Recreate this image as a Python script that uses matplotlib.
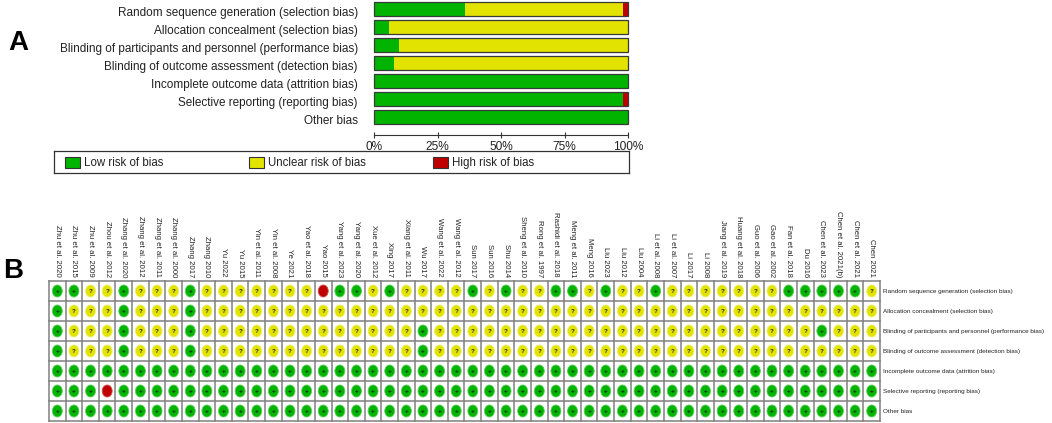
import numpy as np
import matplotlib
matplotlib.use("Agg")
import matplotlib.pyplot as plt
from matplotlib.patches import Rectangle, Ellipse

plt.rcParams['font.family'] = ['Liberation Sans', 'DejaVu Sans']

# risk of bias domains
domains = ["Random sequence generation (selection bias)",
           "Allocation concealment (selection bias)",
           "Blinding of participants and personnel (performance bias)",
           "Blinding of outcome assessment (detection bias)",
           "Incomplete outcome data (attrition bias)",
           "Selective reporting (reporting bias)",
           "Other bias"]

studies = ["Zhu et al. 2020", "Zhu et al. 2015", "Zhu et al. 2009", "Zhou et al. 2012",
           "Zhang et al. 2020", "Zhang et al. 2012", "Zhang et al. 2011", "Zhang et al. 2000",
           "Zhang 2017", "Zhang 2010", "Yu 2022", "Yu 2015", "Yin et al. 2011",
           "Yin et al. 2008", "Ye 2021", "Yao et al. 2018", "Yao 2015", "Yang et al. 2023",
           "Yang et al. 2020", "Xue et al. 2012", "Xing 2017", "Xiang et al. 2011", "Wu 2017",
           "Wang et al. 2022", "Wang et al. 2012", "Sun 2017", "Sun 2016", "Shu 2014",
           "Sheng et al. 2010", "Rong et al. 1997", "Rashidi et al. 2018", "Meng et al. 2011",
           "Meng 2016", "Liu 2023", "Liu 2012", "Liu 2004", "Li et al. 2008", "Li et al. 2007",
           "Li 2017", "Li 2008", "Jiang et al. 2019", "Huang et al. 2018", "Guo et al. 2006",
           "Gao et al. 2002", "Fan et al. 2018", "Du 2016", "Chen et al. 2023",
           "Chen et al. 2021(b)", "Chen et al. 2021", "Chen 2021"]

# judgements per study: L = low, U = unclear, H = high
random_seq   = "LLUULUUULUUUUUUUHLLULUUUULULUULLULUULUUUUUUULLLLLU"
allocation   = "LUUULUUULUUUUUUUUUUUUUUUUUUUUUUUUUUUUUUUUUUUUUUUUU"
blind_part   = "LUUULUUULUUUUUUUUUUUUULUUUUUUUUUUUUUUUUUUUUUUULUUU"
blind_out    = "LUUULUUULUUUUUUUUUUUUULUUUUUUUUUUUUUUUUUUUUUUUUUUU"
incomplete   = "LLLLLLLLLLLLLLLLLLLLLLLLLLLLLLLLLLLLLLLLLLLLLLLLLL"
selective    = "LLLHLLLLLLLLLLLLLLLLLLLLLLLLLLLLLLLLLLLLLLLLLLLLLL"
other        = "LLLLLLLLLLLLLLLLLLLLLLLLLLLLLLLLLLLLLLLLLLLLLLLLLL"
judgements = [random_seq, allocation, blind_part, blind_out, incomplete, selective, other]

GREEN = '#00b400'
YELLOW = '#e3e300'
RED = '#c00000'

W, H = 1052, 423
fig = plt.figure(figsize=(W / 100, H / 100), dpi=100)


def px_axes(x0, y0, x1, y1):
    return fig.add_axes([x0 / W, 1 - y1 / H, (x1 - x0) / W, (y1 - y0) / H])


# ---------- A: summary bars ----------
n = len(studies)
low = np.array([j.count('L') for j in judgements]) / n * 100
unc = np.array([j.count('U') for j in judgements]) / n * 100
high = np.array([j.count('H') for j in judgements]) / n * 100
ypos = np.arange(len(domains))

axA = px_axes(374, 0, 628, 126)
axA.barh(ypos, low, height=0.78, color=GREEN)
axA.barh(ypos, unc, left=low, height=0.78, color=YELLOW)
axA.barh(ypos, high, left=low + unc, height=0.78, color=RED)
axA.barh(ypos, 100, height=0.78, fill=False, edgecolor='#3a3a3a', linewidth=0.9, clip_on=False)
axA.set_xlim(0, 100)
axA.set_ylim(6.5, -0.5)
for s in ['left', 'top', 'right']:
    axA.spines[s].set_visible(False)
axA.spines['bottom'].set_position(('outward', 6.5))
axA.spines['bottom'].set_color('#333333')
axA.set_yticks([])
axA.set_xticks([0, 25, 50, 75, 100])
axA.set_xticklabels(['0%', '25%', '50%', '75%', '100%'])
axA.tick_params(axis='x', direction='inout', length=5, color='#333333',
                labelsize=8.6, pad=1.5, labelcolor='#222222')
for i, d in enumerate(domains):
    axA.text(-0.063, i + 0.22, d, transform=axA.get_yaxis_transform(),
             ha='right', va='center', fontsize=8.45, color='#222222')

# legend box
axL = px_axes(54, 151, 629, 173)
axL.set_xlim(0, 575)
axL.set_ylim(22, 0)
axL.set_xticks([])
axL.set_yticks([])
for s in axL.spines.values():
    s.set_color('#333333')
    s.set_linewidth(0.9)
for x0, c, lab in [(11, GREEN, 'Low risk of bias'),
                   (195, YELLOW, 'Unclear risk of bias'),
                   (379, RED, 'High risk of bias')]:
    axL.add_patch(Rectangle((x0, 5.5), 15, 11, facecolor=c, edgecolor='#333333', linewidth=0.8))
    axL.text(x0 + 19, 11.5, lab, va='center', ha='left', fontsize=8.3, color='#222222')

fig.text(8 / W, 1 - 43 / H, 'A', fontsize=20, fontweight='bold',
         family=['Liberation Sans Narrow', 'Liberation Sans'], va='center', ha='left')

# ---------- B: traffic light grid ----------
axB = px_axes(49, 281, 880, 421)
axB.set_xlim(0, n)
axB.set_ylim(len(domains), 0)
axB.axis('off')
for x in range(n + 1):
    axB.plot([x, x], [0, len(domains)], color='#808080', linewidth=1.1, clip_on=False)
for y in range(len(domains) + 1):
    axB.plot([0, n], [y, y], color='#808080', linewidth=1.1, clip_on=False)

style = {'L': (GREEN, '#60d060', '+'), 'U': (YELLOW, '#efef70', '?'), 'H': (RED, '#d05050', '')}
for r, row in enumerate(judgements):
    for c, j in enumerate(row):
        fc, ec, sym = style[j]
        axB.add_patch(Ellipse((c + 0.5, r + 0.5), 0.6, 0.6, facecolor=fc,
                              edgecolor=ec, linewidth=0.6))
        if sym:
            axB.text(c + 0.5, r + 0.52, sym, ha='center', va='center', fontsize=4.5,
                     color='#202020', fontweight='bold')

for c, name in enumerate(studies):
    axB.text(c + 0.5, -0.2, name, rotation=270, ha='center', va='bottom',
             fontsize=5.6, color='#222222',
             family=['Liberation Sans Narrow', 'Liberation Sans'])

for r, d in enumerate(domains):
    axB.text(n + 0.2, r + 0.5, d, ha='left', va='center', fontsize=4.55,
             color='#222222', family=['Liberation Sans Narrow', 'Liberation Sans'])

fig.text(3 / W, 1 - 271 / H, 'B', fontsize=20, fontweight='bold',
         family=['Liberation Sans Narrow', 'Liberation Sans'], va='center', ha='left')

fig.savefig('out.png', dpi=100)
